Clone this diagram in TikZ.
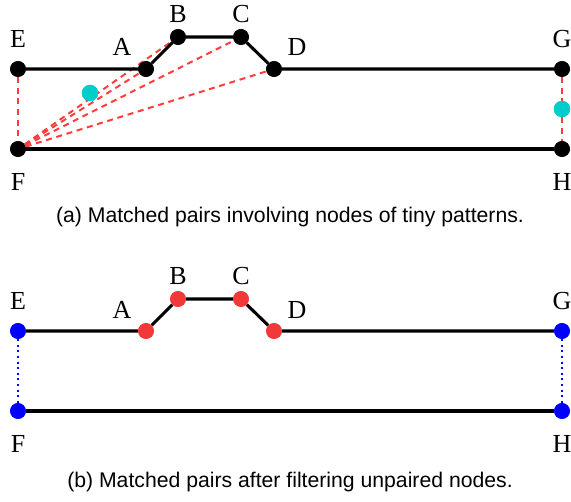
\documentclass[tikz,border=0pt]{standalone}
\usepackage{fontspec}
\setmainfont{Liberation Serif}
\setsansfont{Liberation Sans}
\usepackage{tikz}
\usetikzlibrary{calc}
\definecolor{matchred}{rgb}{1.,0.24,0.24}
\definecolor{dotred}{rgb}{0.95,0.22,0.22}
\definecolor{tinycyan}{rgb}{0.,0.8,0.8}
\definecolor{pairblue}{rgb}{0.,0.,1.}
\tikzset{
  vtx/.style={circle,inner sep=0pt,minimum size=11.8pt,fill=black},
  redvtx/.style={vtx,fill=dotred},
  bluevtx/.style={vtx,fill=pairblue},
  tinyvtx/.style={vtx,fill=tinycyan,minimum size=12.2pt},
  lbl/.style={font=\fontsize{19.5}{19.5}\selectfont},
  trunk/.style={line width=2.3pt,color=black},
  pairdash/.style={line width=1.5pt,color=matchred,dash pattern=on 4.5pt off 3.5pt},
  pairdot/.style={line width=1.6pt,color=pairblue,dash pattern=on 1.6pt off 2.6pt},
  captxt/.style={font=\sffamily\fontsize{15.9}{15.9}\selectfont}
}

\begin{document}
\begin{tikzpicture}[line cap=butt,line join=round,x=0.75pt,y=-0.75pt]
    \useasboundingbox (0,0) rectangle (571,502);
    % upper drawing: every pair that was matched
    \node[vtx] (E) at (18,69) {};
    \node[vtx] (F) at (18,149) {};
    \node[vtx] (A) at (146,69) {};
    \node[vtx] (B) at (178,37) {};
    \node[vtx] (C) at (241,37) {};
    \node[vtx] (D) at (274,69) {};
    \node[vtx] (G) at (562,69) {};
    \node[vtx] (H) at (562,149) {};
    \node[tinyvtx] (t1) at (90,93) {};
    \node[tinyvtx] (t2) at (562,109) {};
    \draw[pairdash] (E) -- (F);
    \draw[pairdash] (G) -- (t2) -- (H);
    \draw[pairdash] (F) -- (A);
    \draw[pairdash] (F) -- (B);
    \draw[pairdash] (F) -- (C);
    \draw[pairdash] (F) -- (D);
    \draw[trunk] (E) -- (A) -- (B) -- (C) -- (D) -- (G);
    \draw[trunk] (F) -- (H);
    \foreach \v in {E,F,A,B,C,D,G,H}
      \node[vtx] at (\v) {};
    \node[tinyvtx] at (t1) {};
    \node[tinyvtx] at (t2) {};
    \node[lbl] (lE) at (18,39) {E};
    \node[lbl] (lF) at (18,182) {F};
    \node[lbl] (lA) at (122,47) {A};
    \node[lbl] (lB) at (178,14) {B};
    \node[lbl] (lC) at (241,14) {C};
    \node[lbl] (lD) at (297,47) {D};
    \node[lbl] (lG) at (562,39) {G};
    \node[lbl] (lH) at (562,182) {H};
    \node[captxt] (capa) at (290,217) {(a) Matched pairs involving nodes of tiny patterns.};
    % lower drawing: pairs kept after the filter
    \node[bluevtx] (E2) at (18,331) {};
    \node[bluevtx] (F2) at (18,411) {};
    \node[redvtx] (A2) at (146,331) {};
    \node[redvtx] (B2) at (178,299) {};
    \node[redvtx] (C2) at (241,299) {};
    \node[redvtx] (D2) at (274,331) {};
    \node[bluevtx] (G2) at (562,331) {};
    \node[bluevtx] (H2) at (562,411) {};
    \draw[pairdot] (E2) -- (F2);
    \draw[pairdot] (G2) -- (H2);
    \draw[trunk] (E2) -- (A2) -- (B2) -- (C2) -- (D2) -- (G2);
    \draw[trunk] (F2) -- (H2);
    \foreach \v in {E2,F2,G2,H2}
      \node[bluevtx] at (\v) {};
    \foreach \v in {A2,B2,C2,D2}
      \node[redvtx] at (\v) {};
    \node[lbl] (lE2) at (18,301) {E};
    \node[lbl] (lF2) at (18,444) {F};
    \node[lbl] (lA2) at (122,310) {A};
    \node[lbl] (lB2) at (178,276) {B};
    \node[lbl] (lC2) at (241,276) {C};
    \node[lbl] (lD2) at (297,310) {D};
    \node[lbl] (lG2) at (562,301) {G};
    \node[lbl] (lH2) at (562,444) {H};
    \node[captxt] (capb) at (290,482) {(b) Matched pairs after filtering unpaired nodes.};
\end{tikzpicture}
\end{document}
